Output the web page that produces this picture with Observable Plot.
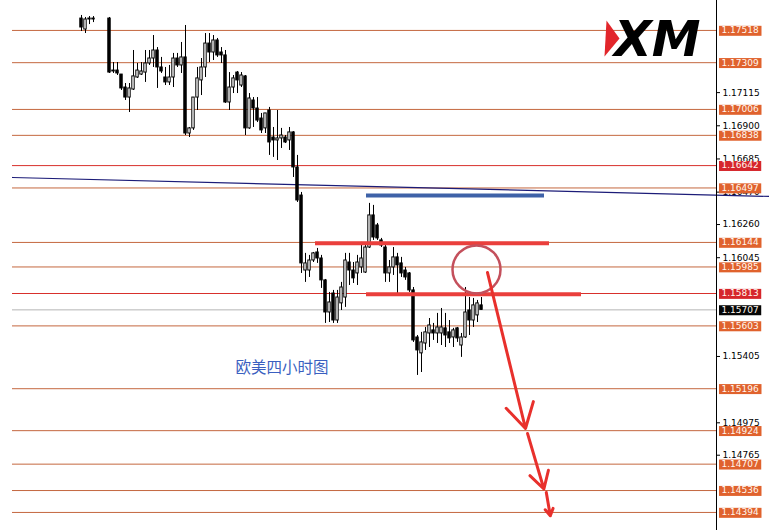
<!DOCTYPE html>
<html><head><meta charset="utf-8">
<script src="https://cdn.jsdelivr.net/npm/d3@7"></script>
<script src="https://cdn.jsdelivr.net/npm/@observablehq/plot@0.6"></script>
<style>html,body{margin:0;padding:0;background:#fff;}svg{display:block}</style>
</head><body><div id="chart"></div>
<script>
// 4-hour EUR/USD candles (index = bar number)
const open = [1.17595,1.17524,1.17589,1.17595,null,null,null,1.17595,1.17258,1.17258,
 1.17232,1.17148,1.17083,1.17135,1.17213,1.17232,1.17245,1.17304,1.17336,1.17388,
 1.17278,1.17213,1.17181,1.17213,1.17336,1.17291,1.17343,1.16850,1.16883,1.17083,
 1.17194,1.17278,1.17433,1.17375,1.17453,1.17375,1.17356,1.17051,1.17148,1.17245,
 1.17161,1.17220,1.16883,1.17064,1.17012,1.16947,1.16883,1.16999,1.16824,1.16805,
 1.16818,1.16824,1.16805,1.16857,1.16630,1.16448,1.15962,1.15962,1.16027,1.16079,
 1.16040,1.15898,1.15690,1.15813,1.15638,1.15749,1.15787,1.16014,1.15962,1.15943,
 1.15982,1.15949,1.16111,1.16319,1.16254,1.16157,1.16111,1.15943,1.15982,1.16047,
 1.16008,1.15962,1.15943,1.15833,1.15528,1.15425,1.15489,1.15554,1.15574,1.15554,
 1.15554,1.15587,1.15561,1.15528,1.15587,1.15476,1.15528,1.15703,1.15638,1.15671,
 1.15736];
const high = [1.17615,1.17602,1.17608,1.17608,null,null,null,1.17602,1.17310,1.17310,
 1.17232,1.17174,1.17174,1.17388,1.17304,1.17310,1.17388,1.17388,1.17485,1.17407,
 1.17343,1.17278,1.17291,1.17369,1.17369,1.17440,1.17550,1.16889,1.17083,1.17278,
 1.17336,1.17498,1.17498,1.17485,1.17466,1.17407,1.17388,1.17245,1.17226,1.17252,
 1.17245,1.17226,1.17109,1.17083,1.17083,1.16980,1.16980,1.17019,1.16889,1.16999,
 1.16883,1.16837,1.16889,1.16862,1.16708,1.16468,1.16073,1.16060,1.16079,1.16105,
 1.16060,1.15904,1.15820,1.15833,1.15833,1.15885,1.16073,1.16073,1.16014,1.16060,
 1.16144,1.16124,1.16397,1.16384,1.16267,1.16170,1.16124,1.16027,1.16111,1.16073,
 1.16047,1.15982,1.15949,1.15852,1.15541,1.15561,1.15593,1.15651,1.15619,1.15684,
 1.15716,1.15684,1.15638,1.15587,1.15593,1.15554,1.15852,1.15787,1.15781,1.15768,
 1.15787];
const low = [1.17511,1.17498,1.17556,1.17569,null,null,null,1.17239,1.17239,1.17226,
 1.17129,1.17064,1.16986,1.17129,1.17207,1.17226,1.17181,1.17291,1.17278,1.17142,
 1.17239,1.17161,1.17161,1.17148,1.17278,1.17239,1.16837,1.16824,1.16870,1.16999,
 1.17096,1.17213,1.17310,1.17323,1.17343,1.17304,1.17045,1.16999,1.17109,1.17109,
 1.17148,1.16837,1.16877,1.16889,1.16921,1.16850,1.16850,1.16708,1.16695,1.16675,
 1.16753,1.16785,1.16740,1.16565,1.16403,1.15943,1.15885,1.15917,1.16014,1.16008,
 1.15846,1.15619,1.15625,1.15619,1.15619,1.15703,1.15723,1.15865,1.15878,1.15865,
 1.15943,1.15943,1.16105,1.16157,1.16157,1.16111,1.15885,1.15885,1.15930,1.15800,
 1.15917,1.15898,1.15820,1.15496,1.15282,1.15301,1.15444,1.15463,1.15509,1.15489,
 1.15476,1.15463,1.15489,1.15463,1.15496,1.15399,1.15522,1.15541,1.15593,1.15625,
 1.15703];
const close = [1.17537,1.17589,1.17595,1.17589,null,null,null,1.17245,1.17252,1.17239,
 1.17142,1.17083,1.17142,1.17220,1.17258,1.17252,1.17304,1.17336,1.17388,1.17278,
 1.17252,1.17181,1.17213,1.17336,1.17291,1.17343,1.16850,1.16883,1.17083,1.17207,
 1.17278,1.17433,1.17375,1.17453,1.17356,1.17356,1.17051,1.17148,1.17207,1.17194,
 1.17226,1.16883,1.17077,1.17012,1.16934,1.16870,1.16980,1.16792,1.16805,1.16818,
 1.16837,1.16792,1.16857,1.16630,1.16416,1.16008,1.16008,1.16027,1.16073,1.16040,
 1.15898,1.15690,1.15755,1.15638,1.15787,1.15852,1.16027,1.15962,1.15911,1.16014,
 1.16040,1.16111,1.16319,1.16176,1.16170,1.16124,1.15943,1.15982,1.16047,1.15995,
 1.15943,1.15917,1.15833,1.15509,1.15444,1.15496,1.15561,1.15606,1.15554,1.15593,
 1.15593,1.15541,1.15522,1.15574,1.15522,1.15528,1.15690,1.15638,1.15736,1.15749,
 1.15707];

// Horizontal price levels and their label kinds (o = orange, r = red, c = current price)
const levels = [1.17518,1.17309,1.17006,1.16838,1.16642,1.16497,1.16144,1.15985,1.15813,1.15707,1.15603,1.15196,1.14924,1.14707,1.14536,1.14394];
const levelKinds = ["o","o","o","o","r","o","o","o","r","c","o","o","o","o","o","o"];
// Plain axis tick labels
const tickVals = [1.17115,1.16900,1.16685,1.16470,1.16260,1.16045,1.15405,1.14975,1.14765];

// Annotations (bar index, price)
const trendBars = [-17.25, 172];
const trendPrices = [1.16565, 1.16442];
const segFrom = [71.25, 58.5, 71.25];
const segTo = [115.75, 117, 125];
const segPrice = [1.16448, 1.16138, 1.15808];
const segColor = ["#3e62a8", "#ea3f3c", "#ea3f3c"];
const circleBar = [98.75], circlePrice = [1.15969];
const arrowFromBar = [101.5, 111.5, 116.2], arrowFromPrice = [1.15949, 1.14906, 1.14524];
const arrowToBar = [111, 115.6, 117.2], arrowToPrice = [1.14938, 1.14546, 1.14372];
const noteText = ["欧美四小时图"], noteBar = [38.5], notePrice = [1.15327];

const xDomain = [-17.25, 158.75];
const yDomain = [1.14277, 1.17712];

const candles = open.map((o, i) => ({i, o, h: high[i], l: low[i], c: close[i]})).filter(d => d.o != null);
const segs = segFrom.map((a, k) => ({a, b: segTo[k], p: segPrice[k], col: segColor[k]}));
const arrows = arrowFromBar.map((a, k) => ({a, pa: arrowFromPrice[k], b: arrowToBar[k], pb: arrowToPrice[k]}));
const trend = trendBars.map((b, k) => ({b, p: trendPrices[k]}));
const lvl = levels.map((v, k) => ({v, k: levelKinds[k]}));
const lineColor = k => k === "r" ? "#d8302c" : k === "c" ? "#b4b4b4" : "#c4673f";

const svg = Plot.plot({
  width: 769, height: 530,
  marginLeft: 12, marginRight: 53, marginTop: 0, marginBottom: 0,
  style: {fontFamily: "DejaVu Sans", fontSize: "9px", background: "white", color: "black"},
  x: {domain: xDomain, axis: null},
  y: {domain: yDomain, axis: "right", ticks: tickVals, tickFormat: d => d.toFixed(5), tickSize: 3, tickPadding: 3, label: null},
  marks: [
    Plot.ruleY(lvl, {y: "v", stroke: d => lineColor(d.k), strokeWidth: 1}),
    Plot.line(trend, {x: "b", y: "p", stroke: "#1c1c78", strokeWidth: 1.2, clip: false}),
    Plot.ruleX(candles, {x: "i", y1: "l", y2: "h", stroke: "black", strokeWidth: 1}),
    Plot.rect(candles, {x1: d => d.i - 0.3, x2: d => d.i + 0.3, y1: "o", y2: "c",
      fill: d => d.c >= d.o ? "white" : "black", stroke: "black", strokeWidth: 1}),
    Plot.ruleY(segs, {x1: "a", x2: "b", y: "p", stroke: "col", strokeWidth: 4}),
    Plot.dot(circleBar, {x: d => d, y: (d, k) => circlePrice[k], r: 24, stroke: "#c4505c", strokeWidth: 2.5, fill: "none"}),
    Plot.arrow(arrows, {x1: "a", y1: "pa", x2: "b", y2: "pb", stroke: "#e8302c", strokeWidth: 3, headLength: 14, bend: false}),
    Plot.text(noteText, {x: (d, k) => noteBar[k], y: (d, k) => notePrice[k], text: d => d, textAnchor: "start",
      fontFamily: "Noto Sans CJK SC", fontSize: 15.5, fill: "#3a5fc0"}),
    Plot.dot([0], {frameAnchor: "top-right", dx: -106, dy: 38, fill: "#e2262b",
      symbol: {draw(ctx) { ctx.moveTo(-4, -18); ctx.lineTo(9, 0); ctx.lineTo(-6, 18); ctx.closePath(); }}, r: 10}),
    Plot.text(["XM"], {frameAnchor: "top-right", dx: -16, dy: 21, text: d => d, textAnchor: "end", lineAnchor: "top",
      fontFamily: "DejaVu Sans", fontWeight: "bold", fontStyle: "italic", fontSize: 49, fill: "black"}),
    Plot.ruleX([xDomain[1]], {stroke: "black", strokeWidth: 1}),
    Plot.text(lvl, {y: "v", text: d => d.v.toFixed(5), frameAnchor: "right", textAnchor: "start", dx: 5,
      fill: "#fff6ee", fontSize: 9})
  ]
});
document.getElementById("chart").appendChild(svg);

// Coloured boxes behind the level price labels, sized from each label's own box
const boxColor = new Map(lvl.map(d => [d.v.toFixed(5), d.k === "r" ? "#d6262b" : d.k === "c" ? "#060606" : "#e0622d"]));
Array.from(svg.querySelectorAll("text")).forEach(t => {
  const s = t.textContent.trim();
  if (!boxColor.has(s)) return;
  const b = t.getBBox();
  const r = document.createElementNS("http://www.w3.org/2000/svg", "rect");
  r.setAttribute("x", b.x - 2.5);
  r.setAttribute("y", b.y + 0.5);
  r.setAttribute("width", b.width + 5);
  r.setAttribute("height", Math.max(b.height - 1, 10));
  const tr = t.getAttribute("transform");
  if (tr) r.setAttribute("transform", tr);
  r.setAttribute("fill", boxColor.get(s));
  t.parentNode.insertBefore(r, t);
});
</script>
</body></html>
